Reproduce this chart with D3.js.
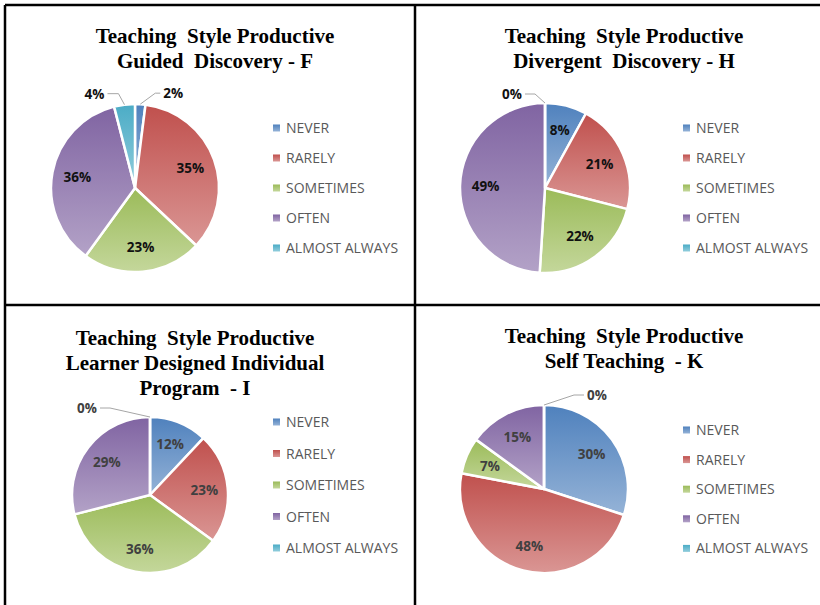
<!DOCTYPE html>
<html><head><meta charset="utf-8">
<script src="https://cdn.jsdelivr.net/npm/d3@7"></script>
<style>body{margin:0;background:#fff}svg{display:block}</style>
</head><body>
<script>
const categories = ["NEVER","RARELY","SOMETIMES","OFTEN","ALMOST ALWAYS"];
const titlesF = ["Teaching  Style Productive","Guided  Discovery - F"];
const titlesH = ["Teaching  Style Productive","Divergent  Discovery - H"];
const titlesI = ["Teaching  Style Productive","Learner Designed Individual","Program  - I"];
const titlesK = ["Teaching  Style Productive","Self Teaching  - K"];
const valuesF = [2,35,23,36,4];
const valuesH = [8,21,22,49,0];
const valuesI = [12,23,36,29,0];
const valuesK = [30,48,7,15,0];
const colorsTop = ["#4F81BD","#C0504D","#9BBB59","#8064A2","#4BACC6"];
const colorsBot = ["#95B3D7","#DA9694","#C4D79B","#B3A2C7","#92CDDC"];

const W=820,H=605;
const svg=d3.select("body").append("svg").attr("width",W).attr("height",H);
const defs=svg.append("defs");
colorsTop.forEach((c,i)=>{
  const g=defs.append("linearGradient").attr("id","g"+i).attr("x1",0).attr("y1",0).attr("x2",0).attr("y2",1);
  g.append("stop").attr("offset","0%").attr("stop-color",c);
  g.append("stop").attr("offset","100%").attr("stop-color",colorsBot[i]);
});

// panel borders
[[5,5,820,5],[5,305,820,305],[5,5,5,605],[415,5,415,605]].forEach(l=>{
  svg.append("line").attr("x1",l[0]).attr("y1",l[1]).attr("x2",l[2]).attr("y2",l[3])
    .attr("stroke","#000").attr("stroke-width",2.5);
});

const charts=[
  {titles:titlesF,values:valuesF,tx:215,ty:43,cx:135,cy:188,r:84,lx:273,ly:128,ldy:30,labelColor:"#111",
   outside:{0:{ex:15,ey:-11,h:5},4:{ex:-6,ey:-11,h:-11}}},
  {titles:titlesH,values:valuesH,tx:624,ty:43,cx:545,cy:188,r:85,lx:683,ly:128,ldy:30,labelColor:"#111",
   outside:{4:{ex:-10,ey:-9,h:-10}}},
  {titles:titlesI,values:valuesI,tx:195,ty:345,cx:150,cy:495,r:78,lx:273,ly:422,ldy:31.5,labelColor:"#404040",
   outside:{4:{ex:-40,ey:-9,h:-10}}},
  {titles:titlesK,values:valuesK,tx:624,ty:343,cx:544,cy:489,r:84,lx:683,ly:430,ldy:29.6,labelColor:"#404040",
   outside:{4:{ex:30,ey:-10,h:10}}}
];

const sansFont="'Open Sans',sans-serif";
charts.forEach(ch=>{
  const g=svg.append("g");
  const t=g.append("text").attr("x",ch.tx).attr("y",ch.ty).attr("text-anchor","middle")
    .attr("font-family","'Liberation Serif','Times New Roman',serif").attr("font-weight","bold")
    .attr("font-size",21).attr("fill","#000").style("white-space","pre");
  ch.titles.forEach((s,i)=>t.append("tspan").attr("x",ch.tx).attr("dy",i?25:0).text(s));

  const pie=d3.pie().sort(null).value(d=>d)(ch.values);
  const arc=d3.arc().innerRadius(0).outerRadius(ch.r);
  const pg=g.append("g").attr("transform",`translate(${ch.cx},${ch.cy})`);
  pg.selectAll("path").data(pie).join("path").attr("d",arc)
    .attr("fill",(d,i)=>`url(#g${i})`).attr("stroke","#fff").attr("stroke-width",2.5).attr("stroke-linejoin","round");

  const fmt=v=>v+"%";
  pie.forEach((d,i)=>{
    const mid=(d.startAngle+d.endAngle)/2;
    const o=ch.outside[i];
    if(o){
      const ex=ch.r*Math.sin(mid), ey=-ch.r*Math.cos(mid);
      const bx=ex+o.ex, by=ey+o.ey, hx=bx+o.h;
      pg.append("polyline").attr("points",`${ex},${ey} ${bx},${by} ${hx},${by}`)
        .attr("fill","none").attr("stroke","#A6A6A6").attr("stroke-width",1);
      pg.append("text").attr("x",hx+(o.h>0?3:-3)).attr("y",by+5)
        .attr("text-anchor",o.h>0?"start":"end")
        .attr("font-family",sansFont).attr("font-weight","bold").attr("font-size",13.5)
        .attr("fill",ch.labelColor).text(fmt(ch.values[i]));
    } else if(ch.values[i]>0){
      const rr=ch.r*0.7;
      pg.append("text").attr("x",rr*Math.sin(mid)).attr("y",-rr*Math.cos(mid)+5)
        .attr("text-anchor","middle")
        .attr("font-family",sansFont).attr("font-weight","bold").attr("font-size",13.5)
        .attr("fill",ch.labelColor).text(fmt(ch.values[i]));
    }
  });

  const lg=g.append("g");
  categories.forEach((c,i)=>{
    const y=ch.ly+i*ch.ldy;
    lg.append("rect").attr("x",ch.lx).attr("y",y-3.5).attr("width",7).attr("height",7).attr("fill",`url(#g${i})`);
    lg.append("text").attr("x",ch.lx+13).attr("y",y+5)
      .attr("font-family",sansFont).attr("font-size",14).attr("fill","#595959").text(c);
  });
});
</script>
</body></html>
